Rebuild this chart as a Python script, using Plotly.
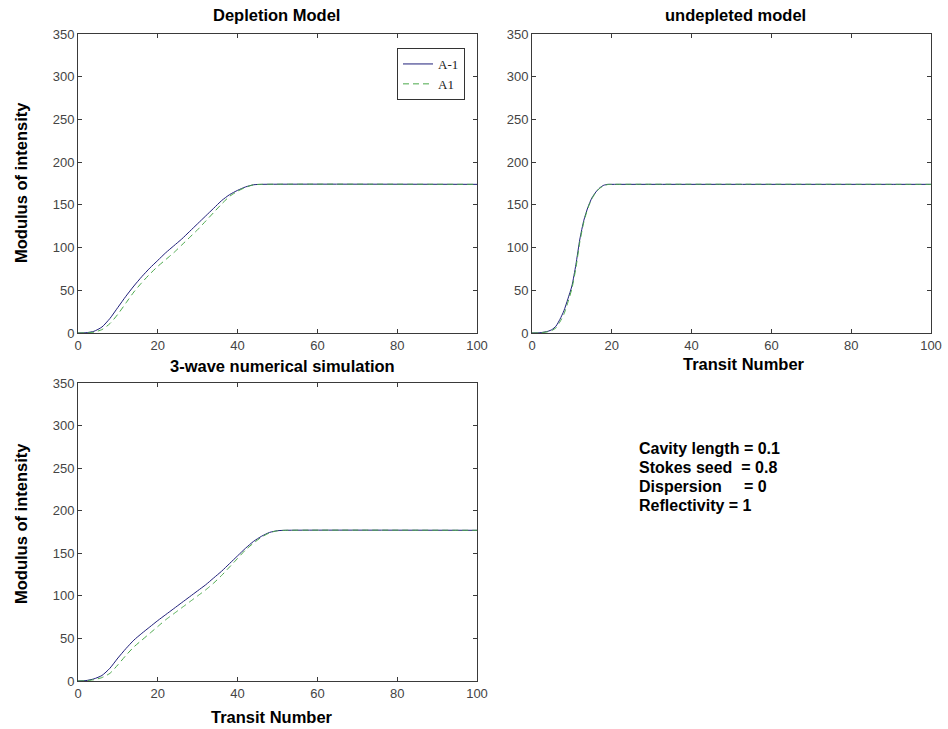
import plotly.graph_objects as go

# ---------------- data ----------------
dep_x = [0, 2, 4, 6, 8, 10, 12, 14, 16, 18, 20, 22, 24, 26, 28, 30, 32, 34, 36, 38, 40, 42, 44, 46, 100]
dep_am1 = [0, 0.3, 2, 7, 17, 30, 43, 55, 66, 76, 85, 94, 102, 110, 119, 128, 137, 146, 155, 162, 167, 171, 173.5, 174, 174]
dep_a1 = [0, 0.2, 1, 4, 11, 22, 35, 48, 59, 69, 78, 86, 94, 103, 112, 121, 131, 141, 151, 160, 166, 170.5, 173.5, 174, 174]

und_x = [0, 2, 4, 5, 6, 7, 8, 9, 10, 11, 12, 13, 14, 15, 16, 17, 18, 19, 20, 100]
und_am1 = [0, 0.3, 2, 4, 8, 16, 26, 40, 55, 80, 110, 132, 147, 158, 165, 170, 173, 174, 174, 174]
und_a1 = [0, 0.2, 1.5, 3, 6, 13, 22, 36, 52, 76, 107, 130, 146, 157, 164.5, 169.5, 172.5, 173.8, 174, 174]

sim_x = [0, 2, 4, 6, 8, 10, 12, 14, 16, 18, 20, 22, 24, 26, 28, 30, 32, 34, 36, 38, 40, 42, 44, 46, 48, 50, 52, 100]
sim_am1 = [0, 0.5, 2.5, 6.5, 15, 27, 38, 48, 56, 63.5, 71, 78, 85, 92, 99, 106, 113, 121, 129, 138, 147, 156, 164, 170, 174.5, 176.5, 177, 177]
sim_a1 = [0, 0.3, 1.5, 4, 9, 19, 30, 40, 48, 56, 64, 72, 79, 86, 93, 100, 107, 115, 124, 134, 144, 154, 162, 169, 174, 176.5, 177, 177]

x_ticks = [0, 20, 40, 60, 80, 100]
y_ticks = [0, 50, 100, 150, 200, 250, 300, 350]

titles = ["Depletion Model", "undepleted model", "3-wave numerical simulation"]
x_title = "Transit Number"
y_title = "Modulus of intensity"
series_names = ["A-1", "A1"]
params = ["Cavity length = 0.1",
          "Stokes seed\u00a0 = 0.8",
          "Dispersion\u00a0\u00a0\u00a0\u00a0 = 0",
          "Reflectivity = 1"]

# ---------------- styling ----------------
W, H = 948, 729
C_AM1 = "#1f1f7a"
C_A1 = "#4aa84a"
TEXT_FONT = "Liberation Sans, Arial, sans-serif"

def px(x):
    return x / W

def py(y):
    return 1 - y / H

dom = {
    1: ([px(78), px(477)], [py(333), py(34)]),
    2: ([px(532), px(931)], [py(333), py(34)]),
    3: ([px(78), px(477)], [py(681), py(383)]),
}

fig = go.Figure()

datasets = [
    (1, dep_x, dep_am1, dep_a1),
    (2, und_x, und_am1, und_a1),
    (3, sim_x, sim_am1, sim_a1),
]

for k, xs, am1, a1 in datasets:
    xa = "x" if k == 1 else f"x{k}"
    ya = "y" if k == 1 else f"y{k}"
    fig.add_trace(go.Scatter(x=xs, y=am1, mode="lines", name=series_names[0],
                             line=dict(color=C_AM1, width=1, shape="spline", smoothing=0.6),
                             xaxis=xa, yaxis=ya, showlegend=(k == 1)))
    fig.add_trace(go.Scatter(x=xs, y=a1, mode="lines", name=series_names[1],
                             line=dict(color=C_A1, width=1, dash="6px,4px", shape="spline", smoothing=0.6),
                             xaxis=xa, yaxis=ya, showlegend=(k == 1)))

axis_common = dict(
    showgrid=False, zeroline=False, showline=True, linecolor="#3a3a3a", linewidth=1,
    mirror="ticks", ticks="inside", ticklen=4, tickcolor="#3a3a3a", tickwidth=1,
    tickfont=dict(family=TEXT_FONT, size=13, color="#444444"),
    automargin=False,
)

layout_axes = {}
for k in (1, 2, 3):
    xk = "xaxis" if k == 1 else f"xaxis{k}"
    yk = "yaxis" if k == 1 else f"yaxis{k}"
    xa_anchor = "y" if k == 1 else f"y{k}"
    ya_anchor = "x" if k == 1 else f"x{k}"
    layout_axes[xk] = dict(axis_common, domain=dom[k][0], range=[0, 100], tickvals=x_ticks,
                           anchor=xa_anchor)
    layout_axes[yk] = dict(axis_common, domain=dom[k][1], range=[0, 350], tickvals=y_ticks,
                           anchor=ya_anchor)

fig.update_layout(
    template="none",
    width=W, height=H, autosize=False,
    margin=dict(l=0, r=0, t=0, b=0, pad=0),
    paper_bgcolor="white", plot_bgcolor="white",
    legend=dict(x=px(465), y=py(48), xanchor="right", yanchor="top",
                bgcolor="white", bordercolor="#333333", borderwidth=1,
                font=dict(family="Liberation Serif, Times New Roman, serif", size=13, color="#222222"),
                tracegroupgap=0, itemwidth=30),
    **layout_axes,
)

ann = []
bold = dict(family=TEXT_FONT, size=16.5, color="#000000")
# subplot titles
ann.append(dict(text=f"<b>{titles[0]}</b>", x=px(276), y=py(15), xref="paper", yref="paper",
                showarrow=False, font=bold, xanchor="center", yanchor="middle"))
ann.append(dict(text=f"<b>{titles[1]}</b>", x=px(735), y=py(15), xref="paper", yref="paper",
                showarrow=False, font=bold, xanchor="center", yanchor="middle"))
ann.append(dict(text=f"<b>{titles[2]}</b>", x=px(282), y=py(366), xref="paper", yref="paper",
                showarrow=False, font=bold, xanchor="center", yanchor="middle"))
# x axis titles
ann.append(dict(text=f"<b>{x_title}</b>", x=px(744), y=py(364), xref="paper", yref="paper",
                showarrow=False, font=bold, xanchor="center", yanchor="middle"))
ann.append(dict(text=f"<b>{x_title}</b>", x=px(272), y=py(717), xref="paper", yref="paper",
                showarrow=False, font=bold, xanchor="center", yanchor="middle"))
# y axis titles
ann.append(dict(text=f"<b>{y_title}</b>", x=px(21), y=py(183), xref="paper", yref="paper",
                showarrow=False, font=bold, xanchor="center", yanchor="middle", textangle=-90))
ann.append(dict(text=f"<b>{y_title}</b>", x=px(21), y=py(524), xref="paper", yref="paper",
                showarrow=False, font=bold, xanchor="center", yanchor="middle", textangle=-90))
# parameter text, one line per annotation
param_font = dict(family=TEXT_FONT, size=16, color="#000000")
for i, p in enumerate(params):
    ann.append(dict(text=f"<b>{p}</b>", x=px(637), y=py(448 + 19 * i),
                    xref="paper", yref="paper", showarrow=False, font=param_font,
                    xanchor="left", yanchor="middle", align="left"))
fig.update_layout(annotations=ann)

fig.write_html(
    "out.html",
    config={"displayModeBar": False},
    post_script="document.body.style.margin='0';document.body.style.padding='0';"
                "document.body.style.overflow='hidden';",
)
